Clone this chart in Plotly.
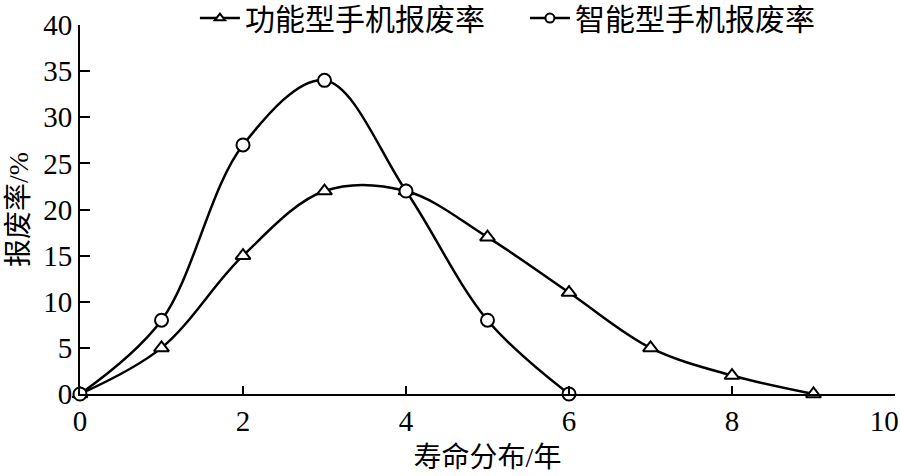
import plotly.graph_objects as go

years_feature = [0, 1, 2, 3, 4, 5, 6, 7, 8, 9]
rate_feature = [0, 5, 15, 22, 22, 17, 11, 5, 2, 0]
years_smart = [0, 1, 2, 3, 4, 5, 6]
rate_smart = [0, 8, 27, 34, 22, 8, 0]

x_ticks = [0, 2, 4, 6, 8, 10]
x_ticktext = ["0", "2", "4", "6", "8", "10\u00a0\u00a0\u00a0"]  # 10 sits at the right edge
y_ticks = [0, 5, 10, 15, 20, 25, 30, 35, 40]

FONT = "Liberation Serif, Noto Sans CJK SC"

fig = go.Figure()

series = [
    ("功能型手机报废率", years_feature, rate_feature, "triangle-up"),
    ("智能型手机报废率", years_smart, rate_smart, "circle"),
]
for name, xs, ys, sym in series:
    fig.add_trace(go.Scatter(
        x=xs, y=ys, mode="lines+markers", name=name, showlegend=False,
        line=dict(color="black", width=2.5, shape="spline", smoothing=1.0),
        marker=dict(symbol=sym, size=13, color="white",
                    line=dict(color="black", width=2)),
        cliponaxis=False,
    ))
# legend entries use smaller markers, like the original
for name, xs, ys, sym in series:
    fig.add_trace(go.Scatter(
        x=[None], y=[None], mode="lines+markers", name=name,
        line=dict(color="black", width=2.5),
        marker=dict(symbol=sym, size=9, color="white",
                    line=dict(color="black", width=2)),
    ))

fig.update_layout(
    width=900, height=476,
    paper_bgcolor="white", plot_bgcolor="white",
    margin=dict(l=80, r=5, t=25, b=82, autoexpand=False),
    font=dict(family=FONT, color="black", size=26),
    legend=dict(orientation="h", x=0.141, xanchor="left",
                yref="container", y=0.962, yanchor="middle",
                font=dict(size=30), bgcolor="rgba(0,0,0,0)",
                entrywidth=275, entrywidthmode="pixels",
                itemwidth=40, tracegroupgap=0),
    xaxis=dict(range=[0, 10], tickvals=x_ticks, ticktext=x_ticktext,
               showgrid=False, zeroline=False, automargin=False,
               showline=True, linecolor="black", linewidth=2,
               ticks="inside", ticklen=8, tickwidth=2, tickcolor="black",
               tickfont=dict(size=29), ticklabeloverflow="allow",
               title=dict(text="寿命分布/年", font=dict(size=28), standoff=12)),
    yaxis=dict(range=[0, 40], tickvals=y_ticks,
               showgrid=False, zeroline=False, automargin=False,
               showline=True, linecolor="black", linewidth=2,
               ticks="inside", ticklen=10, tickwidth=2, tickcolor="black",
               tickfont=dict(size=29),
               title=dict(text="报废率/%", font=dict(size=28), standoff=6)),
)

fig.write_html("out.html", config={"displayModeBar": False},
               post_script="document.body.style.margin='0';")
